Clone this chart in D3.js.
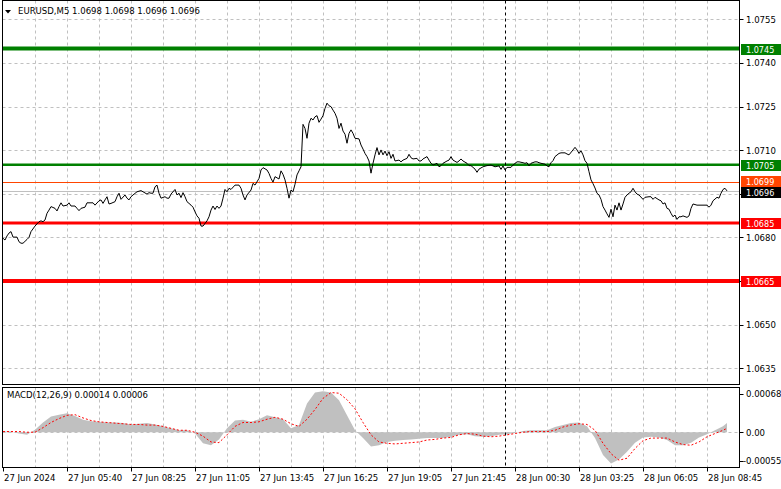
<!DOCTYPE html>
<html><head><meta charset="utf-8">
<script src="https://cdn.jsdelivr.net/npm/d3@7"></script>
<style>
body{margin:0;background:#fff;}
svg{display:block;}
text{font-family:"DejaVu Sans Condensed","DejaVu Sans",sans-serif;font-stretch:condensed;font-size:9.5px;fill:#000;}
text.box{font-size:9px;}
</style>
</head><body>
<svg id="chart" width="781" height="489"></svg>
<script>
// ---------------- data ----------------
const symbol = "EURUSD,M5";
const ohlc = [1.0698, 1.0698, 1.0696, 1.0696];

const priceBars = [0,1,2,3,4,5,7,8,9,10,12,13,14,16,18,19,20,21,22,23,24,26,27,28,29,30,32,33,34,36,37,38,39,41,42,44,45,46,48,49,50,51,52,53,54,56,57,58,59,61,62,63,64,65,67,69,70,72,73,74,75,76,77,78,79,81,82,83,84,86,87,88,89,90,91,92,94,95,96,97,98,99,100,102,103,104,105,106,107,108,109,110,111,112,113,114,116,118,119,120,121,122,124,125,126,128,129,130,132,133,134,135,136,138,139,140,141,142,143,144,145,146,147,148,149,150,151,152,153,154,155,156,157,158,159,160,161,162,163,164,165,166,167,168,169,170,171,172,173,174,175,176,178,179,180,181,182,183,184,185,186,187,188,189,190,191,192,193,194,195,196,198,199,200,202,203,204,205,207,208,209,210,212,213,214,215,217,218,219,220,222,223,224,225,227,228,229,230,232,233,234,236,237,238,240,242,244,246,248,249,250,251,252,254,255,257,258,260,261,262,263,264,266,267,268,269,271,272,273,274,275,276,278,279,281,282,283,285,286,287,288,289,290,291,292,293,294,295,296,297,298,299,300,301,302,303,304,305,306,307,308,309,310,311,312,313,314,315,316,317,318,320,321,323,324,325,326,328,329,330,331,332,333,334,335,336,337,338,339,340,342,343,344,345,347,349,352,353,354,355,357,358,359,360,361,362];

const closes = [1.06797,1.06791,1.06805,1.06815,1.06820,1.06801,1.06801,1.06785,1.06780,1.06780,1.06793,1.06800,1.06820,1.06839,1.06854,1.06857,1.06854,1.06860,1.06883,1.06894,1.06906,1.06900,1.06891,1.06906,1.06919,1.06908,1.06911,1.06919,1.06908,1.06908,1.06900,1.06892,1.06900,1.06904,1.06919,1.06919,1.06919,1.06911,1.06926,1.06929,1.06917,1.06929,1.06940,1.06915,1.06917,1.06923,1.06940,1.06952,1.06931,1.06946,1.06935,1.06929,1.06940,1.06946,1.06957,1.06961,1.06957,1.06949,1.06954,1.06952,1.06952,1.06974,1.06980,1.06952,1.06935,1.06940,1.06935,1.06935,1.06949,1.06965,1.06946,1.06952,1.06937,1.06954,1.06940,1.06923,1.06911,1.06904,1.06888,1.06874,1.06866,1.06839,1.06839,1.06857,1.06871,1.06894,1.06908,1.06896,1.06908,1.06900,1.06908,1.06935,1.06965,1.06957,1.06969,1.06965,1.06980,1.06980,1.06969,1.06946,1.06929,1.06946,1.06963,1.06986,1.06980,1.07003,1.07032,1.07040,1.07032,1.07020,1.07003,1.06990,1.07009,1.07001,1.07029,1.07017,1.06998,1.06969,1.06935,1.06963,1.06957,1.06983,1.07015,1.07029,1.07043,1.07189,1.07175,1.07141,1.07193,1.07210,1.07204,1.07215,1.07219,1.07196,1.07207,1.07219,1.07244,1.07262,1.07253,1.07250,1.07238,1.07227,1.07210,1.07175,1.07193,1.07166,1.07155,1.07124,1.07158,1.07170,1.07158,1.07141,1.07139,1.07118,1.07104,1.07089,1.07078,1.07063,1.07021,1.07055,1.07084,1.07109,1.07084,1.07101,1.07084,1.07097,1.07081,1.07095,1.07072,1.07086,1.07063,1.07066,1.07060,1.07066,1.07072,1.07086,1.07074,1.07070,1.07072,1.07063,1.07063,1.07070,1.07078,1.07066,1.07055,1.07049,1.07055,1.07043,1.07047,1.07055,1.07063,1.07066,1.07078,1.07066,1.07058,1.07063,1.07070,1.07063,1.07055,1.07047,1.07047,1.07035,1.07024,1.07035,1.07043,1.07047,1.07049,1.07043,1.07046,1.07034,1.07046,1.07032,1.07041,1.07041,1.07049,1.07060,1.07060,1.07057,1.07055,1.07057,1.07046,1.07055,1.07060,1.07060,1.07057,1.07055,1.07052,1.07046,1.07043,1.07057,1.07064,1.07078,1.07089,1.07091,1.07091,1.07087,1.07084,1.07101,1.07110,1.07101,1.07089,1.07098,1.07084,1.07064,1.07055,1.07026,1.06998,1.06985,1.06970,1.06952,1.06946,1.06931,1.06906,1.06894,1.06881,1.06869,1.06897,1.06871,1.06911,1.06894,1.06919,1.06894,1.06915,1.06938,1.06946,1.06952,1.06957,1.06969,1.06957,1.06949,1.06946,1.06931,1.06938,1.06940,1.06940,1.06931,1.06938,1.06929,1.06926,1.06915,1.06919,1.06900,1.06897,1.06883,1.06871,1.06877,1.06862,1.06871,1.06871,1.06874,1.06869,1.06874,1.06900,1.06915,1.06911,1.06911,1.06911,1.06904,1.06911,1.06926,1.06938,1.06935,1.06952,1.06965,1.06969,1.06960];

const priceTicks = [1.0755, 1.0740, 1.0725, 1.0710, 1.0695, 1.0680, 1.0665, 1.0650, 1.0635];
const supportResistance = [1.0745, 1.0705, 1.0685, 1.0665];
const askPrice = 1.0699;
const bidPrice = 1.0696;

const timeTickBars = [0, 32, 64, 96, 128, 160, 192, 224, 256, 288, 320, 352];
const timeLabels = ["27 Jun 2024", "27 Jun 05:40", "27 Jun 08:25", "27 Jun 11:05", "27 Jun 13:45", "27 Jun 16:25", "27 Jun 19:05", "27 Jun 21:45", "28 Jun 00:30", "28 Jun 03:25", "28 Jun 06:05", "28 Jun 08:45"];
const gridBars = [16,32,48,64,80,96,112,128,144,160,176,192,208,224,240,256,272,288,304,320,336,352];
const separatorBar = 251;
const totalBars = 368;

const macdName = "MACD(12,26,9)";
const macdLast = [0.00014, 0.00006];
const macdTicks = [0.00068, 0, -0.00055];
const macdBars = [0,4,8,12,16,20,24,28,32,36,40,44,48,52,56,60,64,68,72,76,80,84,88,92,96,100,104,108,112,116,120,124,128,132,136,140,144,148,152,156,160,164,168,172,176,180,184,188,192,196,200,204,208,212,216,220,224,228,232,236,240,244,248,252,256,260,264,268,272,276,280,284,288,292,296,300,304,308,312,316,320,324,328,332,336,340,344,348,352,356,360,362];
const macdMain = [0.00001,0.00001,-0.00002,-0.00004,0.00004,0.00015,0.00024,0.00027,0.00029,0.00025,0.00019,0.00017,0.00016,0.00015,0.00015,0.00014,0.00012,0.00013,0.00014,0.00012,0.00009,0.00006,0.00003,0.00003,-0.00002,-0.00017,-0.00020,-0.00011,0.00006,0.00018,0.00019,0.00016,0.00020,0.00026,0.00023,0.00020,0.00006,0.00011,0.00044,0.00061,0.00063,0.00061,0.00049,0.00026,0.00003,-0.00009,-0.00022,-0.00020,-0.00015,-0.00013,-0.00012,-0.00011,-0.00010,-0.00009,-0.00009,-0.00009,-0.00007,-0.00004,-0.00003,-0.00006,-0.00007,-0.00006,-0.00004,-0.00003,-0.00001,0.00002,0.00003,0.00003,0.00003,0.00008,0.00011,0.00014,0.00015,0.00009,-0.00009,-0.00035,-0.00048,-0.00042,-0.00030,-0.00016,-0.00008,-0.00007,-0.00008,-0.00012,-0.00020,-0.00020,-0.00016,-0.00008,-0.00003,0.00003,0.00009,0.00014];
const macdSignal = [0.00001,0.00001,0.00001,0,0,0.00007,0.00015,0.00021,0.00026,0.00027,0.00022,0.00018,0.00016,0.00015,0.00014,0.00013,0.00012,0.00012,0.00011,0.00011,0.00009,0.00006,0.00003,0.00003,0,-0.00006,-0.00015,-0.00016,-0.00004,0.00009,0.00015,0.00015,0.00016,0.00020,0.00023,0.00020,0.00013,0.00009,0.00020,0.00035,0.00052,0.00061,0.00060,0.00050,0.00036,0.00015,-0.00004,-0.00015,-0.00017,-0.00018,-0.00017,-0.00016,-0.00015,-0.00012,-0.00011,-0.00009,-0.00008,-0.00004,-0.00002,-0.00003,-0.00006,-0.00007,-0.00006,-0.00004,-0.00002,0,0.00001,0.00001,0.00001,0.00003,0.00008,0.00011,0.00013,0.00012,0.00003,-0.00017,-0.00033,-0.00043,-0.00040,-0.00025,-0.00013,-0.00009,-0.00009,-0.00009,-0.00015,-0.00019,-0.00020,-0.00015,-0.00007,-0.00002,0.00003,0.00006];

// ---------------- layout / style ----------------
const W = 781, H = 489;
const L = 2.5, R = 739.5;
const mainTop = 0.5, mainBot = 384.5;
const macdTop = 387.5, macdBot = 467.5;
const gridColor = "#c0c0c0";
const levelColor = {1.0745: "#008000", 1.0705: "#008000", 1.0685: "#ff0000", 1.0665: "#ff0000"};
const levelWidth = {1.0745: 4, 1.0705: 2.5, 1.0685: 3, 1.0665: 4};

const svg = d3.select("#chart");
svg.append("rect").attr("width", W).attr("height", H).attr("fill", "#fff");

const x = d3.scaleLinear().domain([0, totalBars]).range([3, 739]);
const y = d3.scaleLinear().domain([1.0665, 1.0745]).range([281, 48.5]);
const ym = d3.scaleLinear().domain([-0.00055, 0.00068]).range([468, 388]);

const defs = svg.append("defs");
defs.append("clipPath").attr("id", "clipMain").append("rect")
  .attr("x", L).attr("y", mainTop).attr("width", R - L).attr("height", mainBot - mainTop);
defs.append("clipPath").attr("id", "clipMacd").append("rect")
  .attr("x", L).attr("y", macdTop).attr("width", R - L).attr("height", macdBot - macdTop);

const gMain = svg.append("g").attr("clip-path", "url(#clipMain)");
const gMacd = svg.append("g").attr("clip-path", "url(#clipMacd)");

// grid - main
gMain.selectAll("line.hg").data(priceTicks).join("line")
  .attr("x1", L).attr("x2", R)
  .attr("y1", d => Math.round(y(d)) + 0.5).attr("y2", d => Math.round(y(d)) + 0.5)
  .attr("stroke", gridColor).attr("stroke-dasharray", "3,3");
gMain.selectAll("line.vg").data(gridBars).join("line")
  .attr("x1", d => Math.round(x(d)) + 0.5).attr("x2", d => Math.round(x(d)) + 0.5)
  .attr("y1", mainTop).attr("y2", mainBot)
  .attr("stroke", gridColor).attr("stroke-dasharray", "3,3");
// grid - macd
gMacd.selectAll("line.vg").data(gridBars).join("line")
  .attr("x1", d => Math.round(x(d)) + 0.5).attr("x2", d => Math.round(x(d)) + 0.5)
  .attr("y1", macdTop).attr("y2", macdBot)
  .attr("stroke", gridColor).attr("stroke-dasharray", "3,3");
gMacd.append("line")
  .attr("x1", L).attr("x2", R)
  .attr("y1", Math.round(ym(0)) + 0.5).attr("y2", Math.round(ym(0)) + 0.5)
  .attr("stroke", gridColor).attr("stroke-dasharray", "3,3");

// bid line
gMain.append("line").attr("x1", L).attr("x2", R)
  .attr("y1", Math.round(y(bidPrice)) + 0.5).attr("y2", Math.round(y(bidPrice)) + 0.5)
  .attr("stroke", "#c0c0c0");
// ask line
gMain.append("line").attr("x1", L).attr("x2", R)
  .attr("y1", Math.round(y(askPrice)) + 0.5).attr("y2", Math.round(y(askPrice)) + 0.5)
  .attr("stroke", "#ff4500");
// levels
gMain.selectAll("line.lvl").data(supportResistance).join("line")
  .attr("x1", L).attr("x2", R)
  .attr("y1", d => y(d)).attr("y2", d => y(d))
  .attr("stroke", d => levelColor[d]).attr("stroke-width", d => levelWidth[d]);

// separator (both panels)
svg.append("line")
  .attr("x1", Math.round(x(separatorBar)) + 0.5).attr("x2", Math.round(x(separatorBar)) + 0.5)
  .attr("y1", mainTop).attr("y2", macdBot)
  .attr("stroke", "#000").attr("stroke-dasharray", "3,3");

// price line
const pts = priceBars.map((b, i) => [b, closes[i]]);
gMain.append("path").datum(pts)
  .attr("fill", "none").attr("stroke", "#000").attr("stroke-width", 1)
  .attr("d", d3.line().x(d => x(d[0])).y(d => y(d[1])));

// MACD histogram
const mpts = macdBars.map((b, i) => [b, macdMain[i], macdSignal[i]]);
gMacd.append("path").datum(mpts)
  .attr("fill", "#c0c0c0")
  .attr("d", d3.area().x(d => x(d[0])).y0(ym(0)).y1(d => ym(d[1])));
gMacd.append("path").datum(mpts)
  .attr("fill", "none").attr("stroke", "#ff0000").attr("stroke-width", 1)
  .attr("stroke-dasharray", "2,2")
  .attr("d", d3.line().x(d => x(d[0])).y(d => ym(d[2])));

// frames
svg.append("rect").attr("x", L).attr("y", mainTop).attr("width", R - L).attr("height", mainBot - mainTop)
  .attr("fill", "none").attr("stroke", "#000");
svg.append("rect").attr("x", L).attr("y", macdTop).attr("width", R - L).attr("height", macdBot - macdTop)
  .attr("fill", "none").attr("stroke", "#000");

// price axis ticks & labels
const boxValues = [...supportResistance, askPrice, bidPrice];
const visibleTicks = priceTicks.filter(t => boxValues.every(b => Math.abs(y(b) - y(t)) > 8));
svg.selectAll("line.pt").data(priceTicks).join("line")
  .attr("x1", R).attr("x2", R + 4)
  .attr("y1", d => Math.round(y(d)) + 0.5).attr("y2", d => Math.round(y(d)) + 0.5)
  .attr("stroke", "#000");
svg.selectAll("text.pt").data(visibleTicks).join("text")
  .attr("x", 746).attr("y", d => y(d)).attr("dy", "0.35em")
  .text(d => d.toFixed(4));

// price boxes (pushed apart slightly when they collide)
const boxes = [
  {v: 1.0745, bg: "#008000"}, {v: 1.0705, bg: "#008000"},
  {v: askPrice, bg: "#ff4500"}, {v: bidPrice, bg: "#000000"},
  {v: 1.0685, bg: "#ff0000"}, {v: 1.0665, bg: "#ff0000"}
];
boxes.forEach(b => b.cy = Math.round(y(b.v)));
boxes.sort((a, b) => a.cy - b.cy);
for (let i = 1; i < boxes.length; i++) {
  const gap = boxes[i].cy - boxes[i - 1].cy;
  if (gap < 11) {
    const push = Math.ceil((11 - gap) / 2);
    boxes[i - 1].cy -= push; boxes[i].cy += push;
  }
}
const gb = svg.selectAll("g.box").data(boxes).join("g");
gb.append("rect").attr("x", 741).attr("width", 40).attr("height", 11)
  .attr("y", d => d.cy - 5).attr("fill", d => d.bg);
gb.append("text").attr("class", "box").attr("x", 746).attr("y", d => d.cy + 0.5).attr("dy", "0.35em")
  .style("fill", "#fff").text(d => d.v.toFixed(4));

// MACD axis
svg.selectAll("line.mt").data(macdTicks).join("line")
  .attr("x1", R).attr("x2", R + 4)
  .attr("y1", d => Math.round(Math.min(Math.max(ym(d), 394), 461)) + 0.5)
  .attr("y2", d => Math.round(Math.min(Math.max(ym(d), 394), 461)) + 0.5)
  .attr("stroke", "#000");
svg.selectAll("text.mt").data(macdTicks).join("text")
  .attr("x", d => d < 0 ? 743 : 746)
  .attr("y", d => Math.min(Math.max(ym(d), 394), 461)).attr("dy", "0.35em")
  .text(d => d === 0 ? "0.00" : d.toFixed(5));

// time axis
svg.selectAll("line.tt").data(timeTickBars).join("line")
  .attr("x1", d => Math.round(x(d)) + 0.5).attr("x2", d => Math.round(x(d)) + 0.5)
  .attr("y1", macdBot).attr("y2", macdBot + 4)
  .attr("stroke", "#000");
svg.selectAll("text.tt").data(timeTickBars).join("text")
  .attr("x", d => Math.round(x(d)) + 1).attr("y", 481)
  .text((d, i) => timeLabels[i]);

// titles
svg.append("path").attr("d", "M5,10 L11,10 L8,13.5 Z").attr("fill", "#000");
svg.append("text").attr("x", 18).attr("y", 14)
  .text(symbol + "  " + ohlc.map(v => v.toFixed(4)).join(" "));
svg.append("text").attr("x", 7).attr("y", 398)
  .text(macdName + " " + macdLast.map(v => v.toFixed(5)).join(" "));
</script>
</body></html>
